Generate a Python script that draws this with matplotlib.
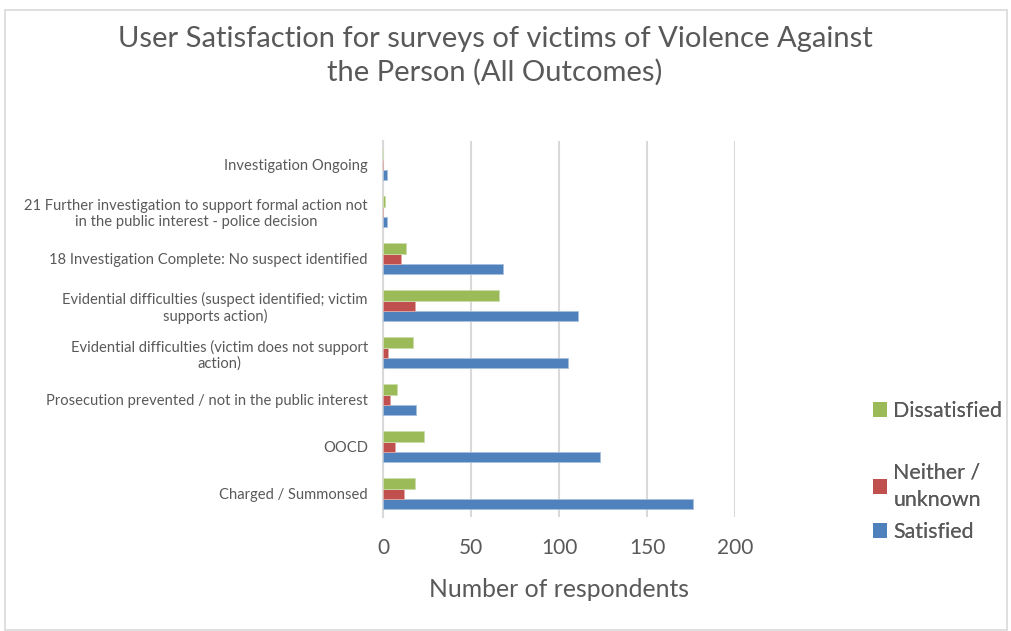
import numpy as np
import matplotlib.pyplot as plt
from matplotlib.patches import Rectangle, Patch

# -------------------- Data --------------------
categories = ['Charged / Summonsed',
              'OOCD',
              'Prosecution prevented / not in the public interest',
              'Evidential difficulties (victim does not support\naction)',
              'Evidential difficulties (suspect identified; victim\nsupports action)',
              '18 Investigation Complete: No suspect identified',
              '21 Further investigation to support formal action not\nin the public interest - police decision',
              'Investigation Ongoing']
satisfied = [176, 123, 19, 105, 111, 68, 2, 2]
neither = [12, 7, 4, 3, 18, 10, 0, 0]
dissatisfied = [18, 23, 8, 17, 66, 13, 1, 0]

c_sat = '#4F81BD'
c_nei = '#C0504D'
c_dis = '#9BBB59'
txt = '#595959'

plt.rcParams['font.family'] = ['Lato', 'DejaVu Sans']

# -------------------- Plotting --------------------
fig = plt.figure(figsize=(10.12, 6.31), dpi=100)
ax = fig.add_axes([0.3785, 0.1799, 0.3478, 0.5959])

y = np.arange(len(categories))
h = 0.22
ax.barh(y - h, satisfied, height=h, color=c_sat, edgecolor='#a7c0de', linewidth=0.6, zorder=3)
ax.barh(y, neither, height=h, color=c_nei, edgecolor='#e0a8a6', linewidth=0.6, zorder=3)
ax.barh(y + h, dissatisfied, height=h, color=c_dis, edgecolor='#cdddac', linewidth=0.6, zorder=3)

ax.set_xlim(0, 200)
ax.set_ylim(-0.5, len(categories) - 0.5)
ax.set_xticks([0, 50, 100, 150, 200])
ax.set_yticks(y)
ax.set_yticklabels(categories, fontsize=10.6, color=txt, multialignment='center',
                   linespacing=1.15)
ax.tick_params(axis='y', length=0, pad=11)
ax.tick_params(axis='x', length=0, pad=15, labelsize=15, labelcolor=txt)
ax.grid(axis='x', color='#d9d9d9', linewidth=1.5, zorder=0)
for s in ['top', 'right', 'bottom']:
    ax.spines[s].set_visible(False)
ax.spines['left'].set_color('#d9d9d9')
ax.spines['left'].set_linewidth(1.5)
ax.set_xlabel('Number of respondents', fontsize=17.8, color=txt, labelpad=14)

# Title
fig.text(495 / 1012, 1 - 56 / 631,
         'User Satisfaction for surveys of victims of Violence Against\nthe Person (All Outcomes)',
         ha='center', va='center', fontsize=21, color=txt, linespacing=1.32)

# legend entries placed like the Excel legend
entries = [('Dissatisfied', c_dis, 411), ('Neither /\nunknown', c_nei, 486), ('Satisfied', c_sat, 532)]
for label, col, ypix in entries:
    leg = fig.legend(handles=[Patch(facecolor=col, edgecolor='none', label=label)],
                     loc='center left', bbox_to_anchor=(873 / 1012, 1 - ypix / 631),
                     frameon=False, fontsize=15.4, handlelength=0.65, handleheight=0.65,
                     handletextpad=0.3, borderaxespad=0, borderpad=0)
    for t in leg.get_texts():
        t.set_color(txt)
        t.set_linespacing(1.45)
    fig.add_artist(leg)

# Chart border
fig.patches.append(Rectangle((5 / 1012, 0.002), 1 - 10 / 1012, 1 - 10 / 631 - 0.002,
                             transform=fig.transFigure, fill=False,
                             edgecolor='#d9d9d9', linewidth=1.2))

fig.savefig('out.png', dpi=100)
